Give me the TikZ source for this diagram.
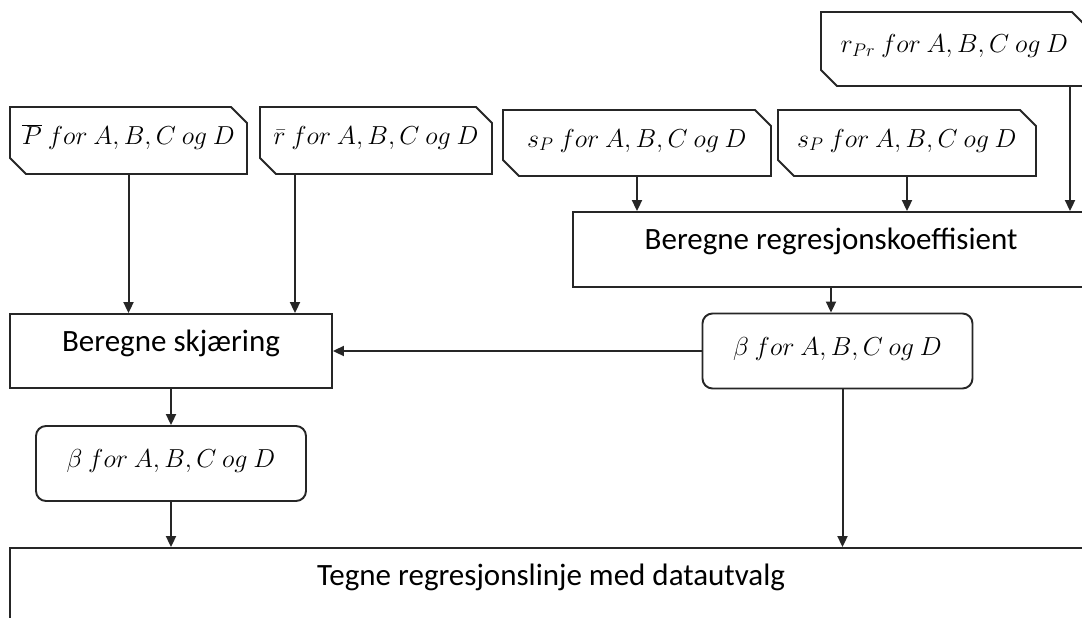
\RequirePackage{fix-cm}
\documentclass[tikz,border=0pt]{standalone}
\usepackage{fontspec}
\setmainfont{Carlito}
\usetikzlibrary{shapes.misc, arrows.meta, calc}

\tikzset{
  >={Triangle[length=11pt,width=10pt]},
  inbox/.style={draw=black!85, line width=1.9pt, chamfered rectangle,
    chamfered rectangle corners={north east,south west},
    chamfered rectangle sep=8pt, inner sep=0pt,
    text height=22pt, text depth=14pt, font=\fontsize{26}{32}\selectfont},
  calcbox/.style={draw=black!85, line width=1.9pt, rectangle, inner sep=0pt,
    text height=22pt, text depth=22pt, font=\fontsize{31}{37}\selectfont},
  outbox/.style={draw=black!85, line width=1.9pt, rectangle, rounded corners=10pt,
    inner sep=0pt, minimum width=270pt, minimum height=75pt,
    text height=22pt, text depth=14pt, font=\fontsize{26}{32}\selectfont},
  link/.style={->, line width=2pt, black!85}
}

\begin{document}
\begin{tikzpicture}[x=1pt, y=-1pt]
\clip (0,0) rectangle (1082,618);

% Input data
\node[inbox, minimum width=237pt, minimum height=67pt] (pbar) at (128.5,140.5)
    {$\overline{P}\ for\ A,B,C\ og\ D$};
\node[inbox, minimum width=232pt, minimum height=67pt] (rbar) at (376,140.5)
    {$\bar{r}\ for\ A,B,C\ og\ D$};
\node[inbox, minimum width=268pt, minimum height=66pt] (sp1) at (637,143)
    {$s_P\ for\ A,B,C\ og\ D$};
\node[inbox, minimum width=258pt, minimum height=66pt] (sp2) at (907,143)
    {$s_P\ for\ A,B,C\ og\ D$};
\node[inbox, minimum width=267pt, minimum height=74pt] (rpr) at (954.5,49)
    {$r_{Pr}\ for\ A,B,C\ og\ D$};

% Calculations
\node[calcbox, minimum width=516pt, minimum height=75pt] (coef) at (831,249.5)
    {Beregne regresjonskoeffisient};
\node[calcbox, minimum width=322pt, minimum height=74pt] (cut) at (171,351)
    {Beregne skjæring};
\node[outbox] (betar) at (837.5,351) {$\beta\ for\ A,B,C\ og\ D$};
\node[outbox] (betal) at (171,463.5) {$\beta\ for\ A,B,C\ og\ D$};
\node[calcbox, minimum width=1082pt, minimum height=74pt] (plot) at (551,585)
    {Tegne regresjonslinje med datautvalg};

% Arrows
\draw[link] (pbar.south) -- (pbar.south |- cut.north);
\draw[link] ([xshift=-81pt]rbar.south) -- ([xshift=-81pt]rbar.south |- cut.north);
\draw[link] (sp1.south) -- (sp1.south |- coef.north);
\draw[link] (sp2.south) -- (sp2.south |- coef.north);
\draw[link] ([xshift=115.5pt]rpr.south) -- ([xshift=115.5pt]rpr.south |- coef.north);
\draw[link] (coef.south) -- (coef.south |- betar.north);
\draw[link] (betar.west) -- (betar.west -| cut.east);
\draw[link] (cut.south) -- (betal.north);
\draw[link] (betal.south) -- (betal.south |- plot.north);
\draw[link] ([xshift=5pt]betar.south) -- ([xshift=5pt]betar.south |- plot.north);
\end{tikzpicture}
\end{document}
